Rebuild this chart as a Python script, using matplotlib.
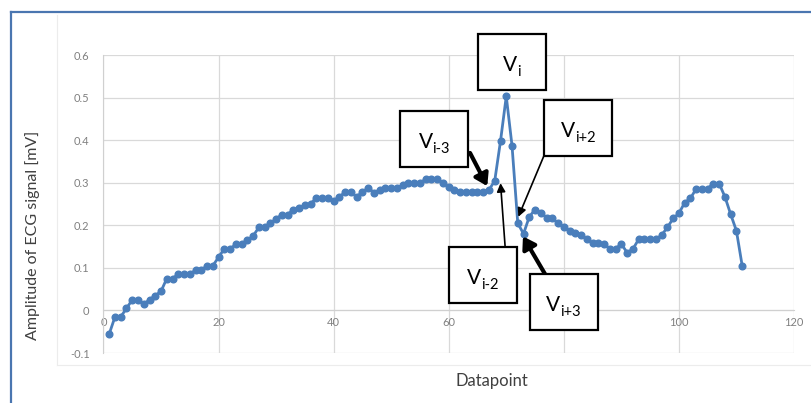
import matplotlib
matplotlib.use("Agg")
import matplotlib.pyplot as plt
from matplotlib.patches import Rectangle
from matplotlib.lines import Line2D

plt.rcParams['font.family'] = ['Lato', 'DejaVu Sans']

# ECG samples
datapoint = list(range(1, 112))
amplitude = [
    -0.055, -0.015, -0.015, 0.005, 0.025, 0.025, 0.015, 0.025, 0.035, 0.045,
    0.075, 0.075, 0.085, 0.085, 0.085, 0.095, 0.095, 0.105, 0.105, 0.125,
    0.145, 0.145, 0.155, 0.155, 0.165, 0.175, 0.195, 0.195, 0.205, 0.215,
    0.225, 0.225, 0.237, 0.24, 0.247, 0.25, 0.265, 0.265, 0.265, 0.257,
    0.267, 0.278, 0.278, 0.267, 0.278, 0.288, 0.277, 0.283, 0.288, 0.288,
    0.288, 0.294, 0.3, 0.3, 0.3, 0.308, 0.308, 0.308, 0.3, 0.29,
    0.283, 0.278, 0.278, 0.278, 0.278, 0.278, 0.283, 0.305, 0.398, 0.503,
    0.387, 0.205, 0.18, 0.22, 0.237, 0.23, 0.218, 0.216, 0.205, 0.195,
    0.187, 0.183, 0.177, 0.167, 0.158, 0.158, 0.156, 0.145, 0.145, 0.156,
    0.136, 0.144, 0.167, 0.167, 0.167, 0.167, 0.177, 0.195, 0.216, 0.228,
    0.253, 0.263, 0.286, 0.286, 0.286, 0.298, 0.298, 0.267, 0.226, 0.187,
    0.105,
]

xticks = [0, 20, 40, 60, 80, 100, 120]
yticks = [-0.1, 0, 0.1, 0.2, 0.3, 0.4, 0.5, 0.6]
ytick_labels = ['-0.1', '0', '0.1', '0.2', '0.3', '0.4', '0.5', '0.6']

# callouts: subscript, box centre, arrow start, arrow tip, thick arrow?
callouts = [
    ('i',   (71.0, 0.583), None, None, False),
    ('i-3', (57.5, 0.403), (63.7, 0.370), (66.7, 0.292), True),
    ('i+2', (82.5, 0.429), (76.6, 0.365), (72.1, 0.220), False),
    ('i-2', (65.9, 0.084), (69.8, 0.150), (69.0, 0.299), False),
    ('i+3', (80.0, 0.020), (76.8, 0.084), (72.9, 0.174), True),
]
box_w, box_h = 11.8, 0.131

fig = plt.figure(figsize=(8.11, 4.03), dpi=100)
ax = fig.add_axes([0.1276, 0.124, 0.8514, 0.7395])

# outer frame (blue) and the faint chart-area edge
fig.add_artist(Line2D([11/811, 11/811], [0, 1 - 12/403], color='#4a76b0', lw=1.6))
fig.add_artist(Line2D([11/811, 1], [1 - 12/403, 1 - 12/403], color='#4a76b0', lw=1.6))
fig.add_artist(Line2D([57/811, 57/811], [1 - 365/403, 1 - 15/403], color='#ececec', lw=0.8))
fig.add_artist(Line2D([57/811, 1], [1 - 365/403, 1 - 365/403], color='#ececec', lw=0.8))

ax.plot(datapoint, amplitude, color='#4a7ebb', lw=2.0, marker='o',
        markersize=4.8, zorder=3)

ax.set_xlim(0, 120)
ax.set_ylim(-0.1, 0.6)
ax.set_xticks(xticks)
ax.set_yticks(yticks)
ax.set_yticklabels(ytick_labels)
ax.grid(True, color='#d9d9d9', lw=0.9)
ax.set_axisbelow(True)
for s in ['top', 'right']:
    ax.spines[s].set_visible(False)
ax.spines['bottom'].set_position(('data', 0))
ax.spines['bottom'].set_color('#d0d0d0')
ax.spines['left'].set_color('#d0d0d0')
ax.tick_params(axis='x', length=0, pad=5, labelsize=8, labelcolor='#808080')
ax.tick_params(axis='y', length=0, pad=10, labelsize=8, labelcolor='#808080')

fig.text(33/811, 1 - 235/403, 'Amplitude of ECG signal [mV]', rotation=90,
         ha='center', va='center', fontsize=11.5, color='#404040')
fig.text(492/811, 1 - 381/403, 'Datapoint', ha='center', va='center',
         fontsize=12, color='#404040')

texts = []
for sub, (cx, cy), start, tip, thick in callouts:
    if start is not None:
        if thick:
            props = dict(arrowstyle='-|>,head_length=0.7,head_width=0.45',
                         lw=3, color='black', shrinkA=0, shrinkB=0)
        else:
            props = dict(arrowstyle='-|>,head_length=0.5,head_width=0.25',
                         lw=1.2, color='black', shrinkA=0, shrinkB=0)
        ax.annotate('', xy=tip, xytext=start, arrowprops=props, zorder=5,
                    annotation_clip=False)
    ax.add_patch(Rectangle((cx - box_w / 2, cy - box_h / 2), box_w, box_h,
                           fc='white', ec='black', lw=1.6, clip_on=False,
                           zorder=6))
    tv = ax.annotate('V', (cx, cy), xytext=(0, 0), textcoords='offset pixels',
                     ha='left', va='baseline', fontsize=15, color='black',
                     zorder=7, annotation_clip=False)
    ts = ax.annotate(sub, (cx, cy), xytext=(0, 0), textcoords='offset pixels',
                     ha='left', va='baseline', fontsize=10.5, color='black',
                     zorder=7, annotation_clip=False)
    texts.append((tv, ts))

# centre the "V" + subscript pairs inside their boxes
fig.canvas.draw()
r = fig.canvas.get_renderer()
for tv, ts in texts:
    wv = tv.get_window_extent(r).width
    ws = ts.get_window_extent(r).width
    x0 = -(wv + ws) / 2
    tv.xyann = (x0, -9)
    ts.xyann = (x0 + wv, -14)

fig.savefig('out.png', dpi=100)
